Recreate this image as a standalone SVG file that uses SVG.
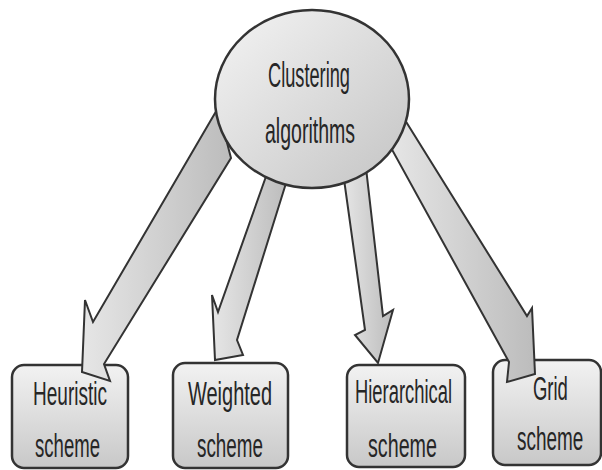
<svg xmlns="http://www.w3.org/2000/svg" width="602" height="470" viewBox="0 0 602 470">
<defs>
<linearGradient id="gEll" x1="0" y1="0" x2="1" y2="1">
<stop offset="0" stop-color="#f4f4f4"/>
<stop offset="1" stop-color="#c4c4c4"/>
</linearGradient>
<linearGradient id="gBox" x1="0" y1="0" x2="0" y2="1">
<stop offset="0" stop-color="#f2f2f2"/>
<stop offset="1" stop-color="#c8c8c8"/>
</linearGradient>
<linearGradient id="gArr" x1="0" y1="0" x2="1" y2="0">
<stop offset="0" stop-color="#e6e6e6"/>
<stop offset="1" stop-color="#bcbcbc"/>
</linearGradient>
<style>
.box{fill:url(#gBox);stroke:#333;stroke-width:2.5}
.arr{fill:url(#gArr);stroke:#333;stroke-width:2;stroke-linejoin:miter}
.t{font-family:"Liberation Sans",Arial,sans-serif;font-size:33px;fill:#262626}
.c{font-size:35px}
</style>
</defs>
<rect width="602" height="470" fill="#fff"/>
<g id="heuristic">
<rect class="box" x="12" y="365" width="116" height="103" rx="12"/>
<text class="t" x="33" y="405" textLength="74" lengthAdjust="spacingAndGlyphs">Heuristic</text>
<text class="t" x="35" y="457" textLength="65" lengthAdjust="spacingAndGlyphs">scheme</text>
</g>
<g id="weighted">
<rect class="box" x="173" y="363" width="115" height="105" rx="12"/>
<text class="t" x="188" y="405" textLength="84" lengthAdjust="spacingAndGlyphs">Weighted</text>
<text class="t" x="197" y="457" textLength="66" lengthAdjust="spacingAndGlyphs">scheme</text>
</g>
<g id="hierarchical">
<rect class="box" x="347" y="365" width="118" height="102" rx="12"/>
<text class="t" x="355" y="403" textLength="97" lengthAdjust="spacingAndGlyphs">Hierarchical</text>
<text class="t" x="368" y="457" textLength="69" lengthAdjust="spacingAndGlyphs">scheme</text>
</g>
<g id="grid">
<rect class="box" x="493" y="360" width="108" height="105" rx="12"/>
<text class="t" transform="translate(533,400) scale(0.56,1)">Grid</text>
<text class="t" transform="translate(517,450) scale(0.574,1)">scheme</text>
</g>
<g id="connectors">
<path class="arr" d="M218,108 L93,322 L85,300 L82,372 L110,381 L104,364 L231,158 Z"/>
<path class="arr" d="M269,168 L218,312 L212,295 L215,360 L243,355 L237,340 L287,180 Z"/>
<path class="arr" d="M343,172 L365,330 L355,335 L378,363 L393,310 L383,316 L366,168 Z"/>
<path class="arr" d="M400,112 L527,316 L532,308 L535,374 L507,382 L509,362 L390,146 Z"/>
</g>
<g id="clustering">
<ellipse cx="312" cy="99" rx="97" ry="89" fill="url(#gEll)" stroke="#333" stroke-width="2.5"/>
<text class="t c" x="268" y="87" textLength="82" lengthAdjust="spacingAndGlyphs">Clustering</text>
<text class="t c" x="265" y="143" textLength="90" lengthAdjust="spacingAndGlyphs">algorithms</text>
</g>
</svg>
